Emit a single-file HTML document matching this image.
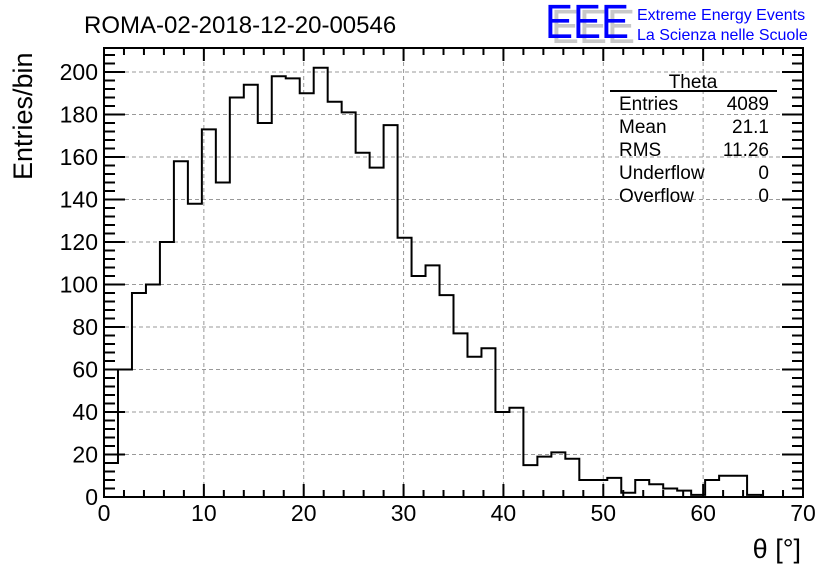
<!DOCTYPE html>
<html><head><meta charset="utf-8"><style>
body{margin:0;background:#fff;}
svg{display:block;font-family:"Liberation Sans",sans-serif;}
</style></head><body>
<svg id="chart" width="836" height="572" viewBox="0 0 836 572" xmlns="http://www.w3.org/2000/svg">
<rect x="0" y="0" width="836" height="572" fill="#fff"/>
<text x="84" y="33" font-size="24">ROMA-02-2018-12-20-00546</text>
<g>
<text x="551" y="43" font-size="48" fill="#c8c8c8" textLength="84" lengthAdjust="spacingAndGlyphs">EEE</text>
<text x="545" y="38" font-size="48" fill="#0000ff" textLength="84" lengthAdjust="spacingAndGlyphs">EEE</text>
<text x="637" y="20" font-size="16" fill="#0000ff">Extreme Energy Events</text>
<text x="637" y="40" font-size="16" fill="#0000ff">La Scienza nelle Scuole</text>
</g>
<g id="grid"></g>
<g id="ticks"></g>
<path id="hist" fill="none" stroke="#000" stroke-width="2"/>
<rect x="104" y="48" width="699" height="449" fill="none" stroke="#000" stroke-width="2"/>
<g id="labels"></g>
<text transform="translate(32,180) rotate(-90)" font-size="27">Entries/bin</text>
<text x="801" y="558" font-size="27" text-anchor="end">θ [°]</text>
<g font-size="19">
<text x="693" y="88" text-anchor="middle">Theta</text>
<line x1="610" y1="91" x2="777" y2="91" stroke="#000" stroke-width="2"/>
<text x="619" y="110">Entries</text><text x="769" y="110" text-anchor="end">4089</text>
<text x="619" y="133">Mean</text><text x="769" y="133" text-anchor="end">21.1</text>
<text x="619" y="156">RMS</text><text x="769" y="156" text-anchor="end">11.26</text>
<text x="619" y="179">Underflow</text><text x="769" y="179" text-anchor="end">0</text>
<text x="619" y="202">Overflow</text><text x="769" y="202" text-anchor="end">0</text>
</g>
</svg>
<script>
const counts=[16,60,96,100,120,158,138,173,148,188,194,176,198,197,190,202,186,181,162,155,175,122,104,109,95,77,66,70,40,42,15,19,21,18,8,8,9,2,8,6,4,3,1,8,10,10,1,0,0,0];
const binStart=0, binWidth=1.4;
const xTicks=[0,10,20,30,40,50,60,70];
const yTicks=[0,20,40,60,80,100,120,140,160,180,200];
const X0=104,X1=803,Y0=497,Y1=48;
const xMin=0,xMax=70,yMin=0,yMax=211.3;
function sx(v){return X0+(v-xMin)/(xMax-xMin)*(X1-X0);}
function sy(v){return Y0-(v-yMin)/(yMax-yMin)*(Y0-Y1);}
const NS="http://www.w3.org/2000/svg";
function mk(tag,attrs,parent){const e=document.createElementNS(NS,tag);for(const k in attrs)e.setAttribute(k,attrs[k]);parent.appendChild(e);return e;}
const grid=document.getElementById('grid'),ticks=document.getElementById('ticks'),labels=document.getElementById('labels');
xTicks.forEach(t=>{const x=sx(t);
 if(t>xMin&&t<xMax){const g=mk('line',{x1:x,x2:x,y1:Y1,y2:Y0,stroke:'#999','stroke-dasharray':'4,3','stroke-width':1},grid);
 
 }
 const l=mk('text',{x:x,y:521,'font-size':23,'text-anchor':'middle'},labels);l.textContent=t;
 
 
});
yTicks.forEach(t=>{const y=sy(t);
 if(t>yMin){const g=mk('line',{x1:X0,x2:X1,y1:y,y2:y,stroke:'#999','stroke-dasharray':'4,3','stroke-width':1},grid);
 
 }
 const l=mk('text',{x:98,y:y+8,'font-size':23,'text-anchor':'end'},labels);l.textContent=t;
 
 
});
for(let v=xMin;v<=xMax;v+=2){const x=sx(v);const L=(v%10===0)?13:7;
 mk('line',{x1:x,x2:x,y1:Y0,y2:Y0-L,stroke:'#000','stroke-width':2},ticks);
 mk('line',{x1:x,x2:x,y1:Y1,y2:Y1+L,stroke:'#000','stroke-width':2},ticks);}
for(let v=0;v<=yMax;v+=4){const y=sy(v);const L=(v%20===0)?21:11;
 mk('line',{x1:X0,x2:X0+L,y1:y,y2:y,stroke:'#000','stroke-width':2},ticks);
 mk('line',{x1:X1,x2:X1-L,y1:y,y2:y,stroke:'#000','stroke-width':2},ticks);}
let d='';
counts.forEach((c,i)=>{const a=sx(binStart+i*binWidth),b=sx(binStart+(i+1)*binWidth),y=sy(c);
 d+=(i===0?'M'+a+','+y:'L'+a+','+y)+' L'+b+','+y+' ';});
document.getElementById('hist').setAttribute('d',d);
</script>
</body></html>
